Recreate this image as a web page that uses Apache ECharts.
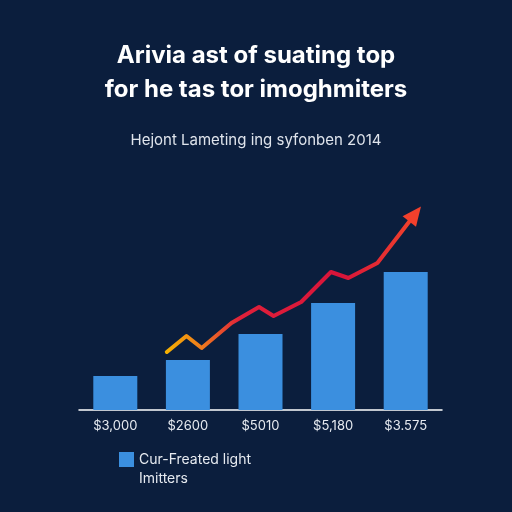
<!DOCTYPE html>
<html><head><meta charset="utf-8">
<script src="https://cdn.jsdelivr.net/npm/echarts@6/dist/echarts.min.js"></script>
<style>html,body{margin:0;padding:0;background:#0b1e3d;}#c{width:512px;height:512px;}</style>
</head><body><div id="c"></div>
<script>
const categories = ["$3,000", "$2600", "$5010", "$5,180", "$3.575"];
const barValues = [34, 50, 76, 107, 138];
const lineX = [0.71, 0.98, 1.19, 1.60, 1.98, 2.18, 2.56, 2.97, 3.21, 3.61, 4.13];
const lineY = [58, 74, 62, 87, 103, 94, 108, 138, 132, 147, 196];
const seriesName = "Cur-Freated light";
const seriesNameLine2 = "Imitters";

const lineData = lineX.map((x, i) => {
  const item = { value: [x, lineY[i]] };
  if (i === lineX.length - 1) {
    item.symbol = 'triangle';
    item.symbolSize = [17, 19];
    item.symbolRotate = -38;
    item.itemStyle = { color: '#f2402c' };
  }
  return item;
});

const chart = echarts.init(document.getElementById('c'));
chart.setOption({
  backgroundColor: '#0b1e3d',
  animation: false,
  title: [{
    text: 'Arivia ast of suating top\nfor he tas tor imoghmiters',
    left: 'center', top: 34,
    textStyle: { color: '#ffffff', fontSize: 24, fontWeight: 'bold', fontFamily: 'Inter', lineHeight: 34 }
  }, {
    text: 'Hejont Lameting ing syfonben 2014',
    left: 'center', top: 128,
    textStyle: { color: '#dfe4ec', fontSize: 15, fontWeight: 'normal', fontFamily: 'Inter' }
  }, {
    text: seriesNameLine2,
    left: 134, top: 467,
    textStyle: { color: '#e6eaf0', fontSize: 14, fontWeight: 'normal', fontFamily: 'Inter' }
  }],
  legend: {
    data: [seriesName],
    left: 114, top: 447,
    icon: 'rect', itemWidth: 15, itemHeight: 15, itemGap: 8,
    textStyle: { color: '#e6eaf0', fontSize: 14, fontFamily: 'Inter' }
  },
  grid: { left: 79, right: 70, top: 190, bottom: 102 },
  xAxis: [{
    type: 'category', data: categories,
    axisLine: { lineStyle: { color: '#ffffff', width: 1.5 } },
    axisTick: { show: false },
    axisLabel: { color: '#e6eaf0', fontSize: 13, fontFamily: 'Inter', margin: 10 }
  }, {
    type: 'value', min: -0.5, max: 4.5, show: false
  }],
  yAxis: { type: 'value', min: 0, max: 220, show: false, splitLine: { show: false } },
  series: [{
    name: seriesName, type: 'bar', data: barValues, barWidth: 44,
    itemStyle: { color: '#3b8fdf' }, xAxisIndex: 0
  }, {
    name: 'trend', type: 'line', xAxisIndex: 1, data: lineData,
    symbol: 'none', showSymbol: true,
    lineStyle: {
      width: 4, cap: 'round', join: 'round',
      color: new echarts.graphic.LinearGradient(0, 0, 1, 0, [
        { offset: 0, color: '#f6b400' },
        { offset: 0.15, color: '#ef7a1e' },
        { offset: 0.3, color: '#e0203a' },
        { offset: 0.7, color: '#d8143a' },
        { offset: 1, color: '#f2452a' }
      ])
    }
  }]
});
</script></body></html>
